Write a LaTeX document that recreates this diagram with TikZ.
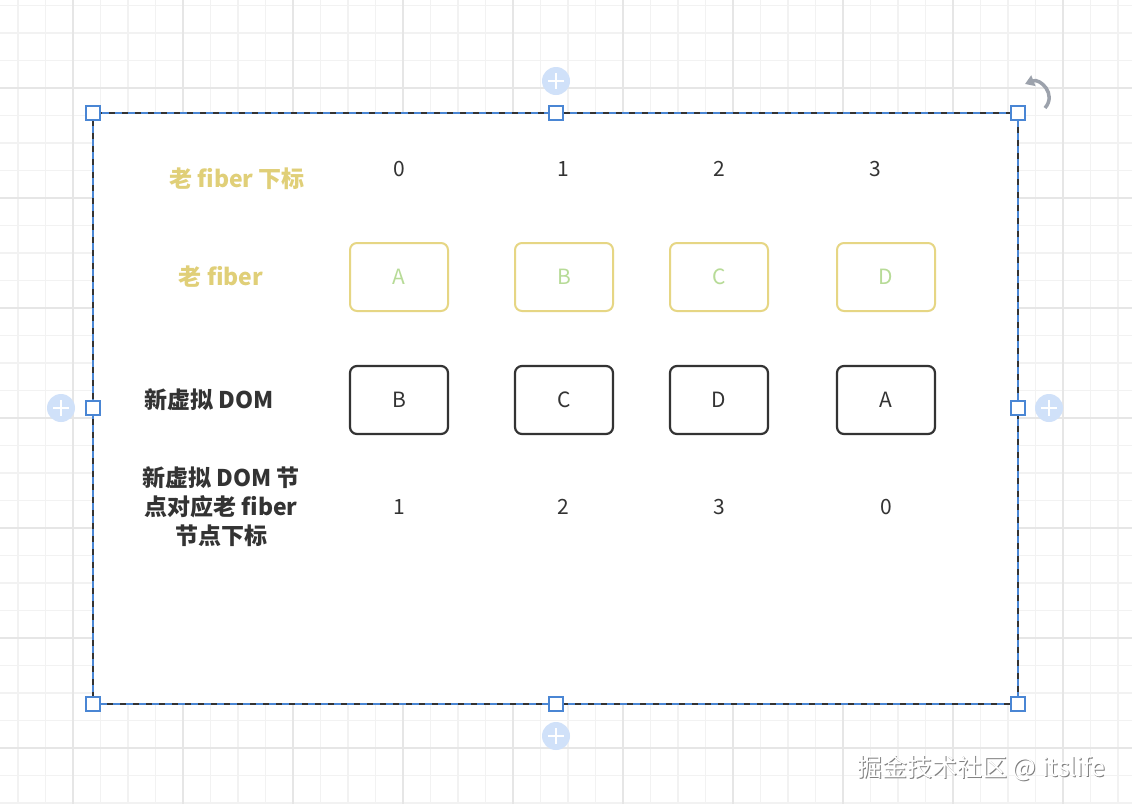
\documentclass[tikz,border=0pt]{standalone}
\usepackage{fontspec}
\setmainfont{Noto Sans CJK SC}
\usetikzlibrary{arrows.meta, positioning}
\definecolor{ink}{HTML}{333333}
\definecolor{oldline}{HTML}{E6D684}
\definecolor{oldlabel}{HTML}{E0CF78}
\definecolor{oldletter}{HTML}{B7DB97}
\definecolor{selblue}{HTML}{4A86D4}
\definecolor{addblue}{HTML}{D0E1F9}
\definecolor{gridminor}{HTML}{F2F2F2}
\definecolor{gridmajor}{HTML}{E6E6E6}
\definecolor{rotgrey}{HTML}{9CA2AC}

\begin{document}
\begin{tikzpicture}[
  x=1pt, y=-1pt,
  oldbox/.style={
    draw=oldline, line width=2pt, rounded corners=7pt,
    minimum width=98pt, minimum height=68pt, text=oldletter,
    font=\fontsize{21}{25}\selectfont
  },
  newbox/.style={
    draw=ink, line width=2.2pt, rounded corners=7pt,
    minimum width=98pt, minimum height=68pt, text=ink,
    font=\fontsize{21}{25}\selectfont
  },
  lbl/.style={font=\fontsize{23}{29}\selectfont\bfseries, align=center, text=#1},
  num/.style={font=\fontsize{21}{25}\selectfont, text=ink},
  handle/.style={draw=selblue, fill=white, line width=1.5pt,
    minimum size=14pt, inner sep=0pt},
  addbtn/.style={circle, fill=addblue, minimum size=28pt, inner sep=0pt},
  plusline/.style={white, line width=2.5pt},
]

\useasboundingbox (0,0) rectangle (1132,804);
\fill[white] (0,0) rectangle (1132,804);

% Background grid
\foreach \k in {0,...,40}
  \draw[gridminor, line width=1.2pt] ({18+27.5*\k},0) -- ({18+27.5*\k},804);
\foreach \k in {0,...,29}
  \draw[gridminor, line width=1.2pt] (0,{5.5+27.5*\k}) -- (1132,{5.5+27.5*\k});
\foreach \k in {0,...,9}
  \draw[gridmajor, line width=1.5pt] ({73+110*\k},0) -- ({73+110*\k},804);
\foreach \k in {0,...,6}
  \draw[gridmajor, line width=1.5pt] (0,{88+110*\k}) -- (1132,{88+110*\k});

% ===== Selected frame =====
\fill[white] (93,113) rectangle (1018,704);
\draw[ink, line width=1.8pt] (93,113) rectangle (1018,704);
\draw[selblue, line width=1.8pt, dash pattern=on 7pt off 6pt] (93,113) rectangle (1018,704);

% ===== Row labels =====
\node[lbl=oldlabel] (lblidx) at (237,179) {老 fiber 下标};
\node[lbl=oldlabel] (lblold) at (221,277) {老 fiber};
\node[lbl=ink] (lblnew) at (209,400) {新虚拟 DOM};
\node[lbl=ink] (lblmap) at (221,507) {新虚拟 DOM 节\\点对应老 fiber\\节点下标};

% ===== Old fiber indices =====
\node[num] (idx0) at (399,169) {0};
\node[num] (idx1) at (563,169) {1};
\node[num] (idx2) at (719,169) {2};
\node[num] (idx3) at (875,169) {3};

% ===== Old fiber nodes =====
\node[oldbox] (oldA) at (399,277) {A};
\node[oldbox] (oldB) at (564,277) {B};
\node[oldbox] (oldC) at (719,277) {C};
\node[oldbox] (oldD) at (886,277) {D};

% ===== New virtual DOM nodes =====
\node[newbox] (newB) at (399,400) {B};
\node[newbox] (newC) at (564,400) {C};
\node[newbox] (newD) at (719,400) {D};
\node[newbox] (newA) at (886,400) {A};

% ===== Mapped indices =====
\node[num] (map1) at (399,507) {1};
\node[num] (map2) at (563,507) {2};
\node[num] (map3) at (719,507) {3};
\node[num] (map0) at (886,507) {0};

% ===== Selection handles =====
\node[handle] (hNW) at (93,113) {};
\node[handle] (hN)  at (556,113) {};
\node[handle] (hNE) at (1018,113) {};
\node[handle] (hW)  at (93,408) {};
\node[handle] (hE)  at (1018,408) {};
\node[handle] (hSW) at (93,704) {};
\node[handle] (hS)  at (556,704) {};
\node[handle] (hSE) at (1018,704) {};

% Add buttons
\node[addbtn] (addT) at (556,81) {};
\node[addbtn] (addL) at (61,408) {};
\node[addbtn] (addR) at (1049,408) {};
\node[addbtn] (addB) at (556,736) {};
\foreach \b in {addT, addL, addR, addB} {
  \draw[plusline] ([xshift=-8pt]\b.center) -- ([xshift=8pt]\b.center);
  \draw[plusline] ([yshift=-8pt]\b.center) -- ([yshift=8pt]\b.center);
}

% Rotate handle
\coordinate (rotA) at (1025,84);
\coordinate (rotB) at (1045,108);
\draw[rotgrey, line width=3.5pt, {Triangle[length=9pt, width=11pt]}-]
  (rotA) .. controls (1040,78) and (1057,94) .. (rotB);

% Watermark
\node[font=\fontsize{25}{29}\selectfont, text=gray, anchor=east] (wmshadow) at (1110,769) {掘金技术社区 @ itslife};
\node[font=\fontsize{25}{29}\selectfont, text=white, anchor=east] (wm) at (1109,768) {掘金技术社区 @ itslife};

\end{tikzpicture}
\end{document}
